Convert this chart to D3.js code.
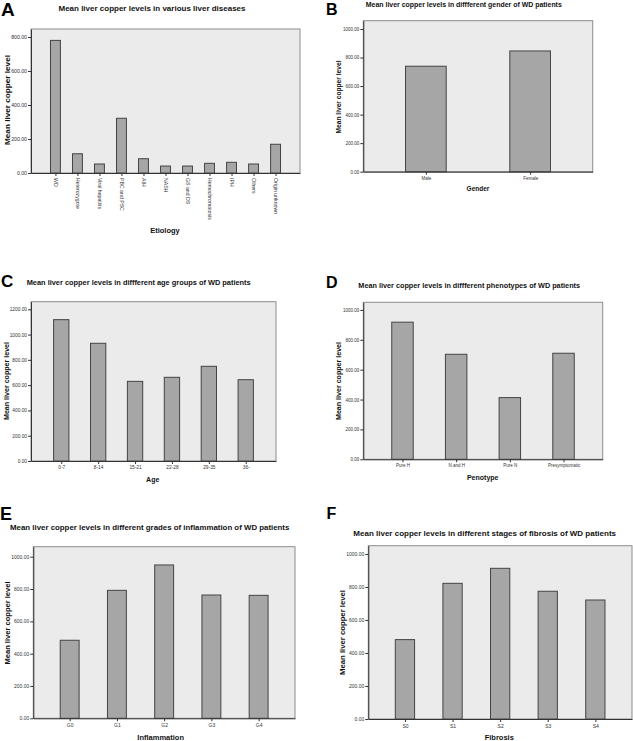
<!DOCTYPE html>
<html><head><meta charset="utf-8">
<script src="https://cdn.jsdelivr.net/npm/d3@7"></script>
<style>
html,body{margin:0;padding:0;background:#fff;}
svg{display:block;font-family:"Liberation Sans",Arial,sans-serif;}
</style></head>
<body>
<svg id="chart" width="633" height="741"></svg>
<script>
// ---- Data ----
const etiologyCats = ["WD","Heterozygote","Viral hepatitis","PBC and PSC","AIH","NASH","GS and DS","Hemochromatosis","IPH","Others","Origin unknown"];
const etiologyVals = [780,113,53,322,84,41,41,57,63,53,169];
const etiologyTicks = [0,200,400,600,800];

const genderCats = ["Male","Female"];
const genderVals = [739,846];
const genderTicks = [0,200,400,600,800,1000];

const ageCats = ["0-7","8-14","15-21","22-28","29-35","36-"];
const ageVals = [1118,931,630,662,749,643];
const ageTicks = [0,200,400,600,800,1000,1200];

const phenoCats = ["Pure H","N and H","Pure N","Presymptomatic"];
const phenoVals = [918,703,413,710];
const phenoTicks = [0,200,400,600,800,1000];

const inflamCats = ["G0","G1","G2","G3","G4"];
const inflamVals = [483,792,949,763,761];
const inflamTicks = [0,200,400,600,800,1000];

const fibrosisCats = ["S0","S1","S2","S3","S4"];
const fibrosisVals = [481,822,913,774,721];
const fibrosisTicks = [0,200,400,600,800,1000];

const titles = [
  "Mean liver copper levels in various liver diseases",
  "Mean liver copper levels in diffferent gender of WD patients",
  "Mean liver copper levels in diffferent age groups of WD patients",
  "Mean liver copper levels in diffferent phenotypes of  WD patients",
  "Mean liver copper levels in different grades of inflammation of WD patients",
  "Mean liver copper levels in different stages of fibrosis of WD patients"
];
const xTitles = ["Etiology","Gender","Age","Penotype","Inflammation","Fibrosis"];
const yTitle = "Mean liver copper level";
const letters = ["A","B","C","D","E","F"];

// ---- Layout ----
const panels = [
  {cats:etiologyCats, vals:etiologyVals, ticks:etiologyTicks, ymax:847,
   x0:31, x1:300, y0:29, y1:173, pad:1.11, bw:0.45, rot:true,
   title:{x:152,y:11,w:187,fs:7.5}, letter:{x:1,y:16,fs:19},
   ytitle:{x:7,y:100,w:90,fs:7.5}, xtitle:{x:165,y:233,fs:7.5}, tickFs:5.2},
  {cats:genderCats, vals:genderVals, ticks:genderTicks, ymax:1058,
   x0:363.3, x1:592.7, y0:20.7, y1:171.7, pad:0.6, bw:0.39,
   title:{x:463.8,y:7,w:196,fs:7}, letter:{x:326,y:15,fs:16},
   ytitle:{x:339,y:97,w:73,fs:6.5}, xtitle:{x:478,y:191,fs:6.5}, tickFs:4.5},
  {cats:ageCats, vals:ageVals, ticks:ageTicks, ymax:1260,
   x0:31, x1:276, y0:301.7, y1:461, pad:0.82, bw:0.415,
   title:{x:138.7,y:285,w:224,fs:7.5}, letter:{x:1,y:287,fs:17},
   ytitle:{x:7,y:381,w:78,fs:7}, xtitle:{x:152.7,y:482,fs:7}, tickFs:4.8},
  {cats:phenoCats, vals:phenoVals, ticks:phenoTicks, ymax:1051,
   x0:363.3, x1:602.7, y0:302.3, y1:459.3, pad:0.73, bw:0.40,
   title:{x:469.2,y:287.5,w:221.7,fs:7.5}, letter:{x:326,y:288,fs:16},
   ytitle:{x:339,y:381,w:78,fs:7}, xtitle:{x:482.7,y:480,fs:7}, tickFs:4.5},
  {cats:inflamCats, vals:inflamVals, ticks:inflamTicks, ymax:1062,
   x0:33.3, x1:295, y0:546.7, y1:718.3, pad:0.77, bw:0.40,
   title:{x:149.7,y:530,w:279.3,fs:7.5}, letter:{x:0,y:519.5,fs:18},
   ytitle:{x:7,y:623,w:83,fs:7.5}, xtitle:{x:160.7,y:739.5,fs:7.5}, tickFs:5},
  {cats:fibrosisCats, vals:fibrosisVals, ticks:fibrosisTicks, ymax:1050,
   x0:368.3, x1:632, y0:545.7, y1:719, pad:0.77, bw:0.405,
   title:{x:484.7,y:536,w:262.7,fs:7.5}, letter:{x:326.5,y:518.5,fs:16},
   ytitle:{x:342,y:632.5,w:85,fs:7.5}, xtitle:{x:499.3,y:739.5,fs:7.5}, tickFs:5}
];

const svg = d3.select("#chart");
const fmt = d3.format(".2f");

panels.forEach((p, i) => {
  const g = svg.append("g");
  const x = d3.scalePoint().domain(p.cats).range([p.x0, p.x1]).padding(p.pad);
  const y = d3.scaleLinear().domain([0, p.ymax]).range([p.y1, p.y0]);
  const bw = x.step() * p.bw;

  // plot background
  g.append("rect").attr("x", p.x0).attr("y", p.y0)
    .attr("width", p.x1 - p.x0).attr("height", p.y1 - p.y0)
    .attr("fill", "#ebebeb").attr("stroke", "#8c8c8c").attr("stroke-width", 1);

  // bars
  g.selectAll("rect.bar").data(p.vals).join("rect").attr("class","bar")
    .attr("x", (d, k) => x(p.cats[k]) - bw/2)
    .attr("y", d => y(d))
    .attr("width", bw)
    .attr("height", d => y(0) - y(d))
    .attr("fill", "#a6a6a6").attr("stroke", "#444").attr("stroke-width", 1);

  // y axis
  const ya = g.append("g").attr("transform", `translate(${p.x0},0)`)
    .call(d3.axisLeft(y).tickValues(p.ticks).tickFormat(fmt).tickSize(3).tickPadding(1).tickSizeOuter(0));
  ya.select(".domain").attr("stroke", "#333");
  ya.selectAll(".tick line").attr("stroke", "#333");
  ya.selectAll(".tick text").attr("font-size", p.tickFs).attr("fill", "#333")
    .attr("font-family", "Liberation Sans, Arial, sans-serif");

  // x axis
  const xa = g.append("g").attr("transform", `translate(0,${p.y1})`)
    .call(d3.axisBottom(x).tickSize(3).tickPadding(2).tickSizeOuter(0));
  xa.select(".domain").attr("stroke", "#333");
  xa.selectAll(".tick line").attr("stroke", "#333");
  const xt = xa.selectAll(".tick text").attr("font-size", p.tickFs).attr("fill", "#333")
    .attr("font-family", "Liberation Sans, Arial, sans-serif");
  if (p.rot) {
    xt.attr("transform", "rotate(90)").attr("text-anchor", "start")
      .attr("x", 5).attr("y", 0).attr("dy", "0.35em");
  }

  // title
  g.append("text").attr("x", p.title.x).attr("y", p.title.y)
    .attr("text-anchor", "middle").attr("font-weight", "bold")
    .attr("font-size", p.title.fs).attr("fill", "#111")
    .attr("textLength", p.title.w).attr("lengthAdjust", "spacingAndGlyphs")
    .text(titles[i]);

  // panel letter
  g.append("text").attr("x", p.letter.x).attr("y", p.letter.y)
    .attr("font-weight", "bold").attr("font-size", p.letter.fs).attr("fill", "#000")
    .text(letters[i]);

  // y title
  g.append("text").attr("transform", `translate(${p.ytitle.x},${p.ytitle.y}) rotate(-90)`)
    .attr("text-anchor", "middle").attr("dy", "0.35em").attr("font-weight", "bold")
    .attr("font-size", p.ytitle.fs).attr("fill", "#111")
    .attr("textLength", p.ytitle.w).attr("lengthAdjust", "spacingAndGlyphs")
    .text(yTitle);

  // x title
  g.append("text").attr("x", p.xtitle.x).attr("y", p.xtitle.y)
    .attr("text-anchor", "middle").attr("font-weight", "bold")
    .attr("font-size", p.xtitle.fs).attr("fill", "#111")
    .text(xTitles[i]);
});
</script>
</body></html>
